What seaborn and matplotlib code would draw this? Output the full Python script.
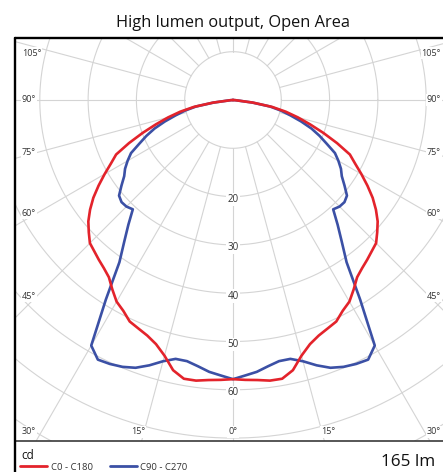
import numpy as np
import pandas as pd
import matplotlib
matplotlib.use("Agg")
import matplotlib.pyplot as plt
from matplotlib.lines import Line2D
import seaborn as sns

# Luminous intensity distribution (cd) vs. gamma angle from nadir (deg)
gamma = [0, 2.5, 5, 7.5, 10, 12.5, 15, 17.5, 20, 22.5, 25, 27.5, 30, 32.5, 35,
         37.5, 40, 42.5, 45, 47.5, 50, 52.5, 55, 57.5, 60, 62.5, 65, 67.5, 70,
         72.5, 75, 77.5, 80, 82.5, 85, 87.5, 90]
c0_c180 = [57.8, 58.0, 58.2, 58.6, 58.6, 57.3, 54.8, 53.0, 51.9, 51.2, 50.6,
           49.2, 48.2, 46.5, 44.8, 43.9, 43.2, 42.5, 41.9, 40.5, 39.1, 37.3,
           35.3, 33.0, 30.7, 28.5, 26.7, 23.3, 19.9, 16.7, 13.9, 11.2, 8.2,
           4.2, 0.6, 0.0, 0.0]
c90_c270 = [57.8, 57.1, 56.5, 55.6, 54.9, 54.9, 56.0, 57.6, 59.0, 59.8, 60.3,
            60.6, 58.7, 49.0, 41.0, 37.0, 33.7, 30.7, 31.2, 31.3, 30.8, 29.1,
            27.5, 26.5, 25.2, 23.8, 21.4, 19.4, 17.3, 14.8, 12.3, 10.2, 7.8,
            4.0, 0.6, 0.0, 0.0]
series_names = ["C0 - C180", "C90 - C270"]
series_colors = ["#e3232b", "#3b50a5"]

radial_ticks = [20, 30, 40, 50, 60]
side_angle_ticks = [45, 60, 75, 90, 105]
bottom_angle_ticks = [0, 15, 30]

title_text = "High lumen output, Open Area"
unit_text = "cd"
flux_text = "165 lm"

# ---- layout (pixels) ----
W, H = 443, 472
CX, CY = 233, 100          # pole of the diagram
S = 4.83                   # pixels per candela
F_LEFT, F_TOP, F_BOT = 15, 38, 441
F_RIGHT = 2 * CX - F_LEFT
GRID = "#d4d4d4"
TXT = "#333333"

sns.set_theme(style="white")
plt.rcParams["font.family"] = ["Open Sans", "DejaVu Sans"]

fig = plt.figure(figsize=(W / 100, H / 100), dpi=100)
ax = fig.add_axes([F_LEFT / W, (H - F_BOT) / H,
                   (F_RIGHT - F_LEFT) / W, (F_BOT - F_TOP) / H])
ax.set_xlim((F_LEFT - CX) / S, (F_RIGHT - CX) / S)
ax.set_ylim((CY - F_BOT) / S, (CY - F_TOP) / S)


def polar_xy(r, g_deg, side=1):
    g = np.deg2rad(g_deg)
    return side * r * np.sin(g), -r * np.cos(g)


def px_x(x_px):
    return (x_px - CX) / S


def px_y(y_px):
    return (CY - y_px) / S


# polar grid: rings and 15-degree spokes starting at the 10 cd ring
t = np.linspace(0, 2 * np.pi, 400)
for r in range(10, 100, 10):
    ax.plot(r * np.cos(t), r * np.sin(t), color=GRID, lw=0.8, zorder=1)
for a in range(0, 360, 15):
    x0, y0 = polar_xy(10, a)
    x1, y1 = polar_xy(150, a)
    ax.plot([x0, x1], [y0, y1], color=GRID, lw=0.8, zorder=1)

label_box = dict(boxstyle="square,pad=0.12", fc="white", ec="none")
lbl = dict(fontsize=6.5, color=TXT, bbox=label_box, zorder=2, va="center")

# radial value labels along the nadir spoke
for r in radial_ticks:
    ax.text(0, -r - 0.6, str(r), ha="center", va="center", fontsize=7,
            color=TXT, bbox=label_box, zorder=2)

# angle labels on the left and right frame edges
x_in = abs(px_x(30))
for g in side_angle_ticks:
    y_px = CY + (x_in * S) / np.tan(np.deg2rad(g))
    y_px = CY + (y_px - CY) * 0.97
    y_px = max(y_px, F_TOP + 15)
    ax.text(px_x(22), px_y(y_px), f"{g}°", ha="left", **lbl)
    ax.text(px_x(441), px_y(y_px), f"{g}°", ha="right", **lbl)

# angle labels along the bottom edge
y_lab = px_y(432)
for g in bottom_angle_ticks:
    x = abs(y_lab) * np.tan(np.deg2rad(g)) * 1.07
    if g == 0:
        ax.text(0, y_lab, f"{g}°", ha="center", **lbl)
    elif -x < px_x(40):
        ax.text(px_x(22), y_lab, f"{g}°", ha="left", **lbl)
        ax.text(px_x(441), y_lab, f"{g}°", ha="right", **lbl)
    else:
        ax.text(-x, y_lab, f"{g}°", ha="center", **lbl)
        ax.text(x, y_lab, f"{g}°", ha="center", **lbl)

# intensity curves: left half (C180 / C270) then right half (C0 / C90)
frames = []
for name, vals in zip(series_names, [c0_c180, c90_c270]):
    g = np.array(gamma)
    r = np.array(vals)
    xl, yl = polar_xy(r[::-1], g[::-1], side=-1)
    xr, yr = polar_xy(r[1:], g[1:], side=1)
    frames.append(pd.DataFrame({"x": np.r_[xl, xr], "y": np.r_[yl, yr],
                                "series": name}))
curves = pd.concat(frames, ignore_index=True)

sns.lineplot(data=curves, x="x", y="y", hue="series",
             hue_order=series_names[::-1],
             palette=dict(zip(series_names, series_colors)),
             sort=False, estimator=None, legend=False, linewidth=1.9, ax=ax)
for ln in ax.lines[-2:]:
    ln.set_zorder(3)
    ln.set_solid_joinstyle("round")

ax.set_xticks([])
ax.set_yticks([])
ax.set_xlabel("")
ax.set_ylabel("")
for side in ("left", "top", "right"):
    ax.spines[side].set_visible(False)
ax.spines["bottom"].set_color("#3a3a3a")
ax.spines["bottom"].set_linewidth(1.2)

# outer frame (left and top edges)
fig.add_artist(Line2D([F_LEFT / W, F_LEFT / W], [0, 1 - F_TOP / H],
                      color="black", lw=1.7, transform=fig.transFigure))
fig.add_artist(Line2D([F_LEFT / W, 1.02], [1 - F_TOP / H, 1 - F_TOP / H],
                      color="black", lw=1.7, transform=fig.transFigure))

fig.text(CX / W, 1 - 27.3 / H, title_text, ha="center", va="baseline",
         fontsize=11.8, color="#111111")

# legend strip
fig.text(21 / W, 1 - 459 / H, unit_text, ha="left", va="baseline",
         fontsize=8.5, color="#111111")
legend_items = [(20, 47, 51), (110, 137, 140)]
for (x0, x1, xt), name, col in zip(legend_items, series_names, series_colors):
    fig.add_artist(Line2D([x0 / W, x1 / W], [1 - 466 / H, 1 - 466 / H],
                          color=col, lw=2.0, transform=fig.transFigure))
    fig.text(xt / W, 1 - 470.5 / H, name, ha="left", va="baseline",
             fontsize=6.8, color=TXT)
fig.text(435 / W, 1 - 465.7 / H, flux_text, ha="right", va="baseline",
         fontsize=12.3, color="#111111")

fig.savefig("out.png", dpi=100)
